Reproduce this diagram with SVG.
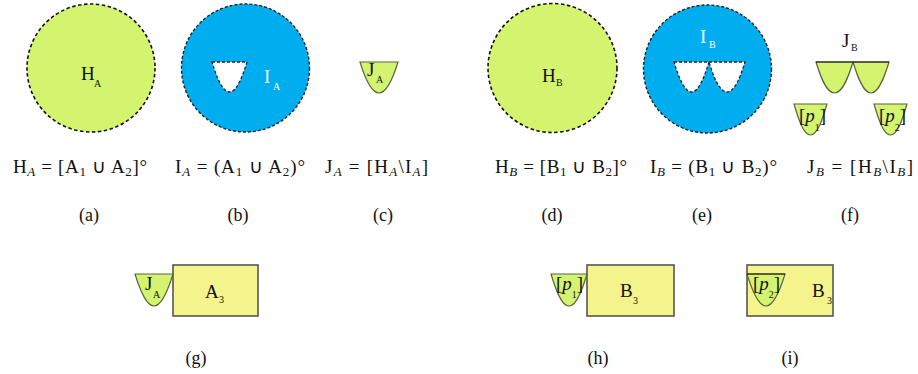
<svg xmlns="http://www.w3.org/2000/svg" width="918" height="374" viewBox="0 0 918 374">
<style>
text{font-family:"Liberation Serif","Times New Roman",serif;fill:#111}
.lbl{font-size:19px}
.sub{font-size:10px}
.it{font-style:italic}
.wh{fill:#fff}
.cap{font-size:18px}
.fm{font-size:19px}
.fs{font-size:13px}
.circG{fill:#d4f470;stroke:#111;stroke-width:1.6;stroke-dasharray:3.5 2.5}
.circB{fill:#00adee;stroke:#222;stroke-width:1.4;stroke-dasharray:3 2}
.hole{fill:#fff;stroke:#222;stroke-width:1.3;stroke-dasharray:3 2}
.bowl{fill:#d4f470;stroke:#5a6440;stroke-width:1.2}
.rect{fill:#f5f38b;stroke:#555;stroke-width:1.6}
</style>

<g id="a">
<circle class="circG" cx="91" cy="68" r="64"/>
<text class="lbl" x="81" y="80">H</text><text class="sub" x="94" y="87">A</text>
<text class="cap" x="89" y="221" text-anchor="middle">(a)</text>
</g>

<g id="b">
<circle class="circB" cx="245.5" cy="68" r="64"/>
<path class="hole" d="M212,62 H247 C243,75 237,92 229.5,92 C222,92 216,75 212,62 Z"/>
<text class="lbl wh" x="264" y="83">I</text><text class="sub wh" x="273" y="90">A</text>
<text class="cap" x="238" y="221" text-anchor="middle">(b)</text>
</g>

<g id="c">
<path class="bowl" d="M360,62 H398 C394,75 387,93 379,93 C371,93 364,75 360,62 Z"/>
<text class="lbl" x="367" y="76">J</text><text class="sub" x="376" y="83">A</text>
<text class="cap" x="383" y="221" text-anchor="middle">(c)</text>
</g>

<g id="d">
<circle class="circG" cx="552.5" cy="68" r="64.5"/>
<text class="lbl" x="542" y="82">H</text><text class="sub" x="556" y="86">B</text>
<text class="cap" x="552" y="221" text-anchor="middle">(d)</text>
</g>

<g id="e">
<circle class="circB" cx="707.5" cy="69" r="64"/>
<path class="hole" d="M674,62 H709 C705,75 699,92 691.5,92 C684,92 678,75 674,62 Z"/>
<path class="hole" d="M709,62 H745 C741,75 735,92 727,92 C719,92 713,75 709,62 Z"/>
<text class="lbl wh" x="700" y="43">I</text><text class="sub wh" x="709" y="48">B</text>
<text class="cap" x="702" y="221" text-anchor="middle">(e)</text>
</g>

<g id="f">
<path class="bowl" d="M816,62 H853 C849,75 843,93 834.5,93 C826,93 820,75 816,62 Z"/>
<path class="bowl" d="M853,62 H889 C885,75 879,93 871,93 C863,93 857,75 853,62 Z"/>
<line x1="816" y1="62" x2="889" y2="62" stroke="#111" stroke-width="1.2"/>
<text class="lbl" x="842" y="47">J</text><text class="sub" x="851" y="51">B</text>
<path class="bowl" d="M794,104 H827 C823,117 818,135 810.5,135 C803,135 798,117 794,104 Z"/>
<text class="lbl" x="799" y="122">[<tspan class="it">p</tspan><tspan class="sub" dy="9">1</tspan><tspan dy="-9">]</tspan></text>
<path class="bowl" d="M874,104 H907 C903,117 898,135 890.5,135 C883,135 878,117 874,104 Z"/>
<text class="lbl" x="879" y="122">[<tspan class="it">p</tspan><tspan class="sub" dy="9">2</tspan><tspan dy="-9">]</tspan></text>
<text class="cap" x="850" y="221" text-anchor="middle">(f)</text>
</g>

<g id="formulas">
<text class="fm" x="13" y="173" textLength="134" lengthAdjust="spacing">H<tspan class="fs it" dy="3">A</tspan><tspan dy="-3"> = [A</tspan><tspan class="fs" dy="3">1</tspan><tspan dy="-3"> ∪ A</tspan><tspan class="fs" dy="3">2</tspan><tspan dy="-3">]°</tspan></text>
<text class="fm" x="175" y="173" textLength="130" lengthAdjust="spacing">I<tspan class="fs it" dy="3">A</tspan><tspan dy="-3"> = (A</tspan><tspan class="fs" dy="3">1</tspan><tspan dy="-3"> ∪ A</tspan><tspan class="fs" dy="3">2</tspan><tspan dy="-3">)°</tspan></text>
<text class="fm" x="325" y="173" textLength="103" lengthAdjust="spacing">J<tspan class="fs it" dy="3">A</tspan><tspan dy="-3"> = [H</tspan><tspan class="fs it" dy="3">A</tspan><tspan dy="-3">\I</tspan><tspan class="fs it" dy="3">A</tspan><tspan dy="-3">]</tspan></text>
<text class="fm" x="495" y="173" textLength="132" lengthAdjust="spacing">H<tspan class="fs it" dy="3">B</tspan><tspan dy="-3"> = [B</tspan><tspan class="fs" dy="3">1</tspan><tspan dy="-3"> ∪ B</tspan><tspan class="fs" dy="3">2</tspan><tspan dy="-3">]°</tspan></text>
<text class="fm" x="650" y="173" textLength="127" lengthAdjust="spacing">I<tspan class="fs it" dy="3">B</tspan><tspan dy="-3"> = (B</tspan><tspan class="fs" dy="3">1</tspan><tspan dy="-3"> ∪ B</tspan><tspan class="fs" dy="3">2</tspan><tspan dy="-3">)°</tspan></text>
<text class="fm" x="807" y="173" textLength="106" lengthAdjust="spacing">J<tspan class="fs it" dy="3">B</tspan><tspan dy="-3"> = [H</tspan><tspan class="fs it" dy="3">B</tspan><tspan dy="-3">\I</tspan><tspan class="fs it" dy="3">B</tspan><tspan dy="-3">]</tspan></text>
</g>

<g id="g">
<rect class="rect" x="173" y="265" width="85" height="51"/>
<path class="bowl" d="M135,274 H173 C169,287 162,306 154,306 C146,306 139,287 135,274 Z"/>
<text class="lbl" x="145" y="290">J</text><text class="sub" x="153" y="298">A</text>
<text class="lbl" x="205" y="298">A</text><text class="sub" x="219" y="303">3</text>
<text class="cap" x="196" y="364" text-anchor="middle">(g)</text>
</g>

<g id="h">
<rect class="rect" x="587" y="265" width="87" height="51"/>
<path class="bowl" d="M551,274 H587 C583,287 577,306 569,306 C561,306 555,287 551,274 Z"/>
<text class="lbl" x="556" y="290">[<tspan class="it">p</tspan><tspan class="sub" dy="8">1</tspan><tspan dy="-8">]</tspan></text>
<text class="lbl" x="620" y="297">B</text><text class="sub" x="633" y="304">3</text>
<text class="cap" x="598" y="364" text-anchor="middle">(h)</text>
</g>

<g id="i">
<rect class="rect" x="747" y="265" width="86" height="51"/>
<path class="bowl" d="M747,274 H785 C781,287 774,306 766,306 C758,306 751,287 747,274 Z"/>
<line x1="747" y1="274" x2="785" y2="274" stroke="#111" stroke-width="1.2"/>
<text class="lbl" x="753" y="290">[<tspan class="it">p</tspan><tspan class="sub" dy="8">2</tspan><tspan dy="-8">]</tspan></text>
<text class="lbl" x="812" y="297">B</text><text class="sub" x="827" y="304">3</text>
<text class="cap" x="790" y="364" text-anchor="middle">(i)</text>
</g>
</svg>
